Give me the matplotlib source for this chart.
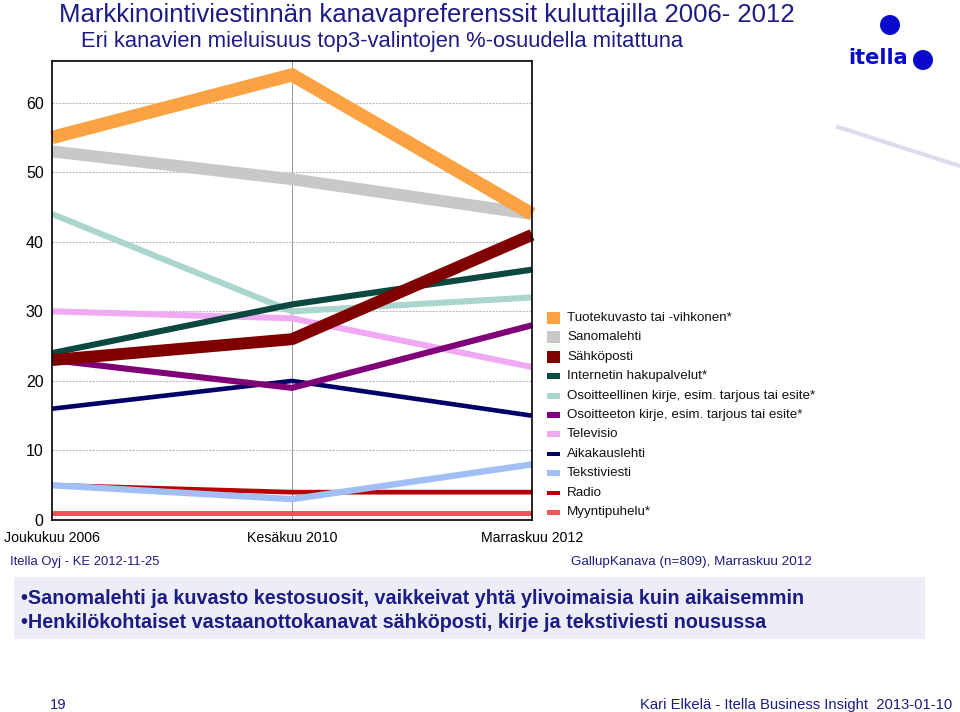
import matplotlib
matplotlib.use('Agg')
import matplotlib.pyplot as plt
from matplotlib.patches import Rectangle, Ellipse
from matplotlib.lines import Line2D

# ---- data ----
periods = ['Joukukuu 2006', 'Kesäkuu 2010', 'Marraskuu 2012']
names = ['Tuotekuvasto tai -vihkonen*', 'Sanomalehti', 'Sähköposti',
         'Internetin hakupalvelut*', 'Osoitteellinen kirje, esim. tarjous tai esite*',
         'Osoitteeton kirje, esim. tarjous tai esite*', 'Televisio', 'Aikakauslehti',
         'Tekstiviesti', 'Radio', 'Myyntipuhelu*']
tuotekuvasto = [55, 64, 44]
sanomalehti = [53, 49, 44]
sahkoposti = [23, 26, 41]
internet = [24, 31, 36]
osoitteellinen = [44, 30, 32]
osoitteeton = [23, 19, 28]
televisio = [30, 29, 22]
aikakauslehti = [16, 20, 15]
tekstiviesti = [5, 3, 8]
radio = [5, 4, 4]
myyntipuhelu = [1, 1, 1]
values = [tuotekuvasto, sanomalehti, sahkoposti, internet, osoitteellinen,
          osoitteeton, televisio, aikakauslehti, tekstiviesti, radio, myyntipuhelu]
yticks = [0, 10, 20, 30, 40, 50, 60]

colors = ['#FBA342', '#C8C8C8', '#800000', '#0B4840', '#AAD6CE', '#800078',
          '#EFAAF3', '#000066', '#A2BFF5', '#B80000', '#F05656']
widths = [9.6, 8.6, 8.6, 4.4, 4.4, 4.4, 4.4, 3.3, 4.6, 3.4, 3.6]
leg_h = [12, 12, 12, 6, 6, 6, 6, 4, 6, 4, 5]

NAVY = '#1C1C84'
SANS = ['Liberation Sans', 'DejaVu Sans']

W, H = 960, 712
fig = plt.figure(figsize=(W / 100, H / 100), dpi=100)
fig.patch.set_facecolor('white')

def fx(px):
    return px / W

def fy(py):
    return 1 - py / H

ax = fig.add_axes([fx(52), fy(520), fx(532) - fx(52), fy(61) - fy(520)])
x = list(range(len(periods)))
n = len(values)
for i, (vals, c, lw) in enumerate(zip(values, colors, widths)):
    ax.plot(x, vals, color=c, lw=lw, solid_capstyle='butt', solid_joinstyle='miter',
            zorder=10 + (n - i), clip_on=False)

ax.set_xlim(0, 2)
ax.set_ylim(0, 66)
ax.set_yticks(yticks)
ax.set_xticks(x)
ax.set_xticklabels(periods, family=SANS, fontsize=10.2)
ax.set_yticklabels([str(t) for t in yticks], family=SANS, fontsize=11.5)
ax.tick_params(length=0, pad=6)
ax.tick_params(axis='x', pad=8)
ax.grid(axis='y', color='#BBBBBB', lw=0.8, ls=(0, (2, 1)))
ax.axvline(1, color='#999999', lw=0.7, zorder=1)
ax.set_axisbelow(True)
for s in ax.spines.values():
    s.set_color('black')
    s.set_linewidth(1.2)
    s.set_zorder(30)

# legend (manual)
for i, (nm, c, h) in enumerate(zip(names, colors, leg_h)):
    yc = 318 + 19.4 * i
    fig.add_artist(Rectangle((fx(547), fy(yc + h / 2)), fx(13), h / H,
                             facecolor=c, edgecolor='none', transform=fig.transFigure))
    fig.text(fx(567), fy(yc), nm, ha='left', va='center', fontsize=9.6,
             family=SANS, color='#111111')

# titles
fig.text(fx(427), fy(15), 'Markkinointiviestinnän kanavapreferenssit kuluttajilla 2006- 2012',
         ha='center', va='center', fontsize=18.5, family=SANS, color=NAVY)
fig.text(fx(382), fy(41), 'Eri kanavien mieluisuus top3-valintojen %-osuudella mitattuna',
         ha='center', va='center', fontsize=15.8, family=SANS, color=NAVY)

# logo
LOGO = '#0A0ACC'
fig.add_artist(Ellipse((fx(890), fy(25)), 20 / W, 20 / H, facecolor=LOGO, edgecolor='none',
                       transform=fig.transFigure))
fig.text(fx(848), fy(58), 'itella', ha='left', va='center', fontsize=15,
         family=['DejaVu Sans'], weight='bold', color=LOGO)
fig.add_artist(Ellipse((fx(923), fy(60)), 20 / W, 20 / H, facecolor=LOGO, edgecolor='none',
                       transform=fig.transFigure))
fig.add_artist(Line2D([fx(838), fx(960)], [fy(127), fy(166)], color='#DCDCEE', lw=3,
                      transform=fig.transFigure))

# source texts
fig.text(fx(10), fy(562), 'Itella Oyj - KE 2012-11-25', ha='left', va='center',
         fontsize=9.4, family=SANS, color=NAVY)
fig.text(fx(812), fy(562), 'GallupKanava (n=809), Marraskuu 2012', ha='right', va='center',
         fontsize=9.7, family=SANS, color=NAVY)

# highlight box
fig.add_artist(Rectangle((fx(14), fy(639)), fx(911), 62 / H, facecolor='#EDEDF7',
                         edgecolor='none', transform=fig.transFigure, zorder=0))
fig.text(fx(21), fy(598), '•Sanomalehti ja kuvasto kestosuosit, vaikkeivat yhtä ylivoimaisia kuin aikaisemmin',
         ha='left', va='center', fontsize=14.2, family=SANS, weight='bold', color=NAVY)
fig.text(fx(21), fy(623), '•Henkilökohtaiset vastaanottokanavat sähköposti, kirje ja tekstiviesti nousussa',
         ha='left', va='center', fontsize=14.2, family=SANS, weight='bold', color=NAVY)

# footer
fig.text(fx(50), fy(705), '19', ha='left', va='center', fontsize=10.6, family=SANS, color=NAVY)
fig.text(fx(952), fy(705), 'Kari Elkelä - Itella Business Insight  2013-01-10', ha='right',
         va='center', fontsize=10.6, family=SANS, color=NAVY)

fig.savefig('out.png', dpi=100, facecolor='white')
